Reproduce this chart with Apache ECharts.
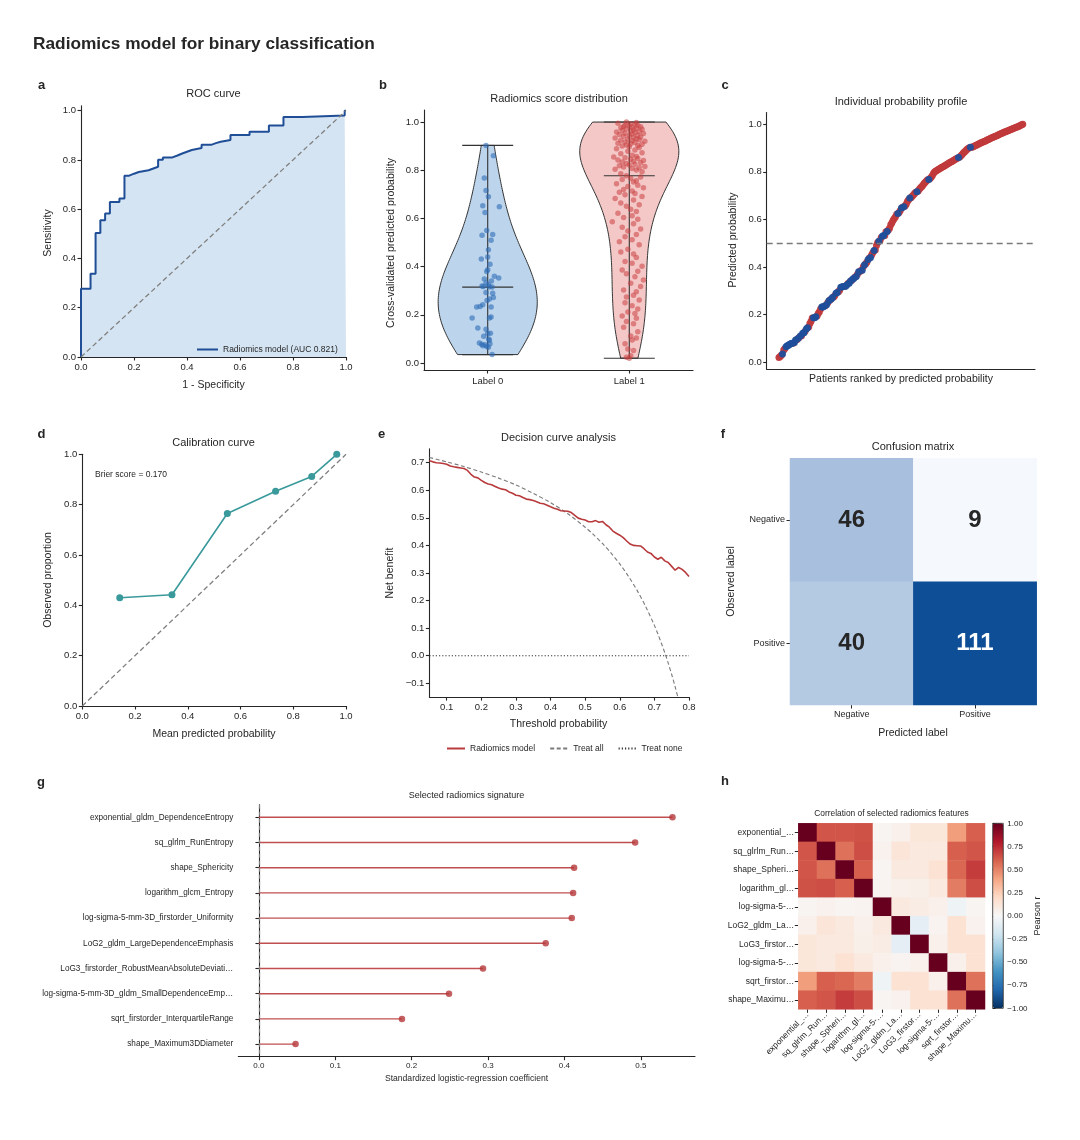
<!DOCTYPE html>
<html>
<head>
<meta charset="utf-8">
<script src="https://cdn.jsdelivr.net/npm/echarts@6/dist/echarts.min.js"></script>
<style>
  html, body { margin: 0; padding: 0; background: #fff; }
  #chart { width: 1080px; height: 1140px; }
</style>
</head>
<body>
<div id="chart"></div>
<script>
// ---------- data ----------
const rocFpr = [0, 0, 0.036, 0.036, 0.055, 0.055, 0.073, 0.073, 0.091, 0.091, 0.109, 0.109, 0.145, 0.145, 0.164, 0.164,
  0.182, 0.182, 0.2, 0.2, 0.218, 0.218, 0.255, 0.255, 0.273, 0.273, 0.291, 0.291, 0.309, 0.309, 0.345, 0.345,
  0.364, 0.364, 0.382, 0.382, 0.4, 0.4, 0.418, 0.418, 0.455, 0.455, 0.491, 0.491, 0.509, 0.509, 0.527, 0.527,
  0.564, 0.564, 0.636, 0.636, 0.709, 0.709, 0.764, 0.764, 0.836, 0.836, 0.995, 0.995, 1];
const rocTpr = [0, 0.277, 0.277, 0.338, 0.338, 0.503, 0.503, 0.555, 0.555, 0.582, 0.582, 0.629, 0.629, 0.643, 0.643, 0.736,
  0.736, 0.744, 0.744, 0.751, 0.751, 0.758, 0.758, 0.765, 0.765, 0.772, 0.772, 0.801, 0.801, 0.81, 0.81, 0.818,
  0.818, 0.826, 0.826, 0.833, 0.833, 0.84, 0.84, 0.848, 0.848, 0.861, 0.861, 0.868, 0.868, 0.874, 0.874, 0.881,
  0.881, 0.901, 0.901, 0.914, 0.914, 0.94, 0.94, 0.974, 0.974, 0.98, 0.98, 1.0, 1.0];
const rocName = 'Radiomics model (AUC 0.821)';

const scoreLabels = ['Label 0', 'Label 1'];
const label0Prob = [0.903, 0.86, 0.768, 0.716, 0.69, 0.653, 0.648, 0.625, 0.55,
  0.533, 0.53, 0.509, 0.47, 0.44, 0.432, 0.41,
  0.387, 0.38, 0.36, 0.353, 0.349, 0.34, 0.332, 0.325, 0.32, 0.318, 0.316, 0.315,
  0.293, 0.29, 0.272, 0.266, 0.259, 0.242, 0.235, 0.232, 0.232,
  0.191, 0.187, 0.187, 0.145, 0.14, 0.124, 0.122, 0.111, 0.10,
  0.094, 0.083, 0.08, 0.078, 0.076, 0.072, 0.069, 0.065, 0.035];
const label0Jitter = [-0.012, 0.04, -0.024, -0.012, 0.005, -0.035, 0.082, -0.019, -0.007,
  0.035, -0.04, 0.024, 0.005, 0, -0.045, 0.016,
  0, -0.007, 0.047, 0.078, -0.024, 0.026, -0.012, 0.005, -0.04, -0.031, 0.012, 0.031,
  -0.012, 0.035, 0.04, 0.012, -0.005, -0.035, -0.054, -0.078, 0.024,
  0.024, -0.11, 0.012, -0.07, -0.012, 0.019, 0, -0.028, 0.007,
  0.012, -0.059, 0.016, -0.042, -0.019, -0.035, -0.007, 0.005, 0.031];
const label1Prob = [0.02, 0.024, 0.03, 0.052, 0.058, 0.08, 0.095, 0.104, 0.112, 0.13,
  0.148, 0.163, 0.172, 0.186, 0.195, 0.205, 0.212, 0.224, 0.238, 0.25,
  0.262, 0.274, 0.281, 0.296, 0.303, 0.318, 0.331, 0.344, 0.358, 0.37,
  0.381, 0.386, 0.402, 0.414, 0.421, 0.438, 0.452, 0.461, 0.472, 0.491,
  0.503, 0.512, 0.524, 0.533, 0.548, 0.556, 0.563, 0.578, 0.586, 0.597,
  0.604, 0.611, 0.622, 0.629, 0.638, 0.651, 0.657, 0.664, 0.676, 0.683, 0.691, 0.698,
  0.703, 0.709, 0.714, 0.72, 0.727, 0.733, 0.738, 0.744, 0.751, 0.756, 0.762, 0.767, 0.772, 0.777,
  0.785, 0.794,
  0.801, 0.804, 0.807, 0.81, 0.813, 0.816, 0.819, 0.822, 0.825, 0.828,
  0.831, 0.834, 0.837, 0.84, 0.843, 0.846, 0.849, 0.852, 0.855, 0.857,
  0.862, 0.868, 0.873, 0.879, 0.884, 0.889, 0.894, 0.898,
  0.901, 0.903, 0.905, 0.908, 0.91, 0.912, 0.915, 0.917, 0.92, 0.922,
  0.924, 0.927, 0.929, 0.931, 0.934, 0.936, 0.938, 0.941, 0.943, 0.945,
  0.948, 0.95, 0.952, 0.954, 0.957, 0.959, 0.961, 0.963, 0.966, 0.968,
  0.97, 0.972, 0.974, 0.976, 0.978, 0.98, 0.982, 0.984, 0.986, 0.988,
  0.99, 0.993, 0.995, 0.998, 1.0];
const label1Jitter = [0.0, -0.02, 0.01, 0.03, -0.01, -0.03, 0.02, 0.05, 0.01, 0.06,
  -0.04, 0.03, -0.02, 0.05, -0.05, 0.04, -0.01, 0.06, 0.02, -0.03,
  0.07, -0.02, 0.03, 0.05, -0.04, 0.08, 0.01, 0.1, 0.04, -0.02,
  0.06, -0.05, 0.09, 0.02, -0.03, 0.05, 0.03, -0.06, -0.01, 0.07,
  -0.07, 0.02, -0.03, 0.05, -0.01, 0.08, -0.05, 0.03, -0.12, 0.06,
  -0.04, 0.02, -0.08, 0.05, 0.01, -0.02, 0.07, -0.06, 0.03, -0.1, 0.09, -0.03,
  0.04, -0.07, 0.02, -0.04, 0.1, -0.01, 0.06, -0.09, 0.03, 0.05, -0.05, 0.01, 0.08, -0.02,
  -0.06, 0.09,
  0.05, -0.1, 0.02, 0.07, -0.04, 0.11, -0.07, 0.0, 0.04, -0.02,
  0.08, -0.05, 0.03, 0.1, -0.08, 0.01, 0.06, -0.03, -0.11, 0.05,
  0.02, -0.06, 0.09, -0.01, 0.04, -0.09, 0.07, 0.0,
  -0.05, 0.06, -0.02, 0.09, 0.01, -0.08, 0.04, -0.03, 0.11, 0.02,
  -0.06, 0.07, -0.01, 0.05, -0.1, 0.03, 0.08, -0.04, 0.0, 0.06,
  -0.07, 0.02, 0.1, -0.03, 0.04, -0.09, 0.07, 0.01, -0.05, 0.03,
  0.09, -0.02, 0.05, -0.06, 0.02, 0.08, -0.04, 0.0, 0.06, -0.03,
  0.04, 0.01, -0.08, 0.05, -0.02];

const calMeanPred = [0.142, 0.34, 0.55, 0.733, 0.87, 0.965];
const calObserved = [0.43, 0.442, 0.765, 0.853, 0.912, 1.0];
const brierScore = 0.170;

const dcaThreshold = [0.05, 0.06, 0.07, 0.08, 0.09, 0.10, 0.11, 0.12, 0.13, 0.14, 0.15, 0.16, 0.17, 0.18, 0.19,
  0.20, 0.21, 0.22, 0.23, 0.24, 0.25, 0.26, 0.27, 0.28, 0.29, 0.30, 0.31, 0.32, 0.33, 0.34, 0.35, 0.36, 0.37,
  0.38, 0.39, 0.40, 0.41, 0.42, 0.43, 0.44, 0.45, 0.46, 0.47, 0.48, 0.49, 0.50, 0.51, 0.52, 0.53, 0.54, 0.55,
  0.56, 0.57, 0.58, 0.59, 0.60, 0.61, 0.62, 0.63, 0.64, 0.65, 0.66, 0.67, 0.68, 0.69, 0.70, 0.71, 0.72, 0.73,
  0.74, 0.75, 0.76, 0.77, 0.78, 0.79, 0.80];
const dcaModel = [0.707, 0.703, 0.700, 0.699, 0.697, 0.694, 0.688, 0.685, 0.683, 0.681, 0.679, 0.672, 0.658, 0.648, 0.645,
  0.636, 0.628, 0.623, 0.620, 0.614, 0.608, 0.604, 0.602, 0.594, 0.589, 0.582, 0.580, 0.574, 0.568, 0.566, 0.563, 0.558, 0.553,
  0.551, 0.546, 0.540, 0.535, 0.531, 0.526, 0.525, 0.524, 0.519, 0.509, 0.499, 0.495, 0.492, 0.486, 0.486, 0.490, 0.484, 0.487,
  0.475, 0.466, 0.452, 0.444, 0.437, 0.428, 0.416, 0.405, 0.400, 0.399, 0.398, 0.388, 0.376, 0.371, 0.358, 0.350, 0.357, 0.344,
  0.338, 0.324, 0.310, 0.320, 0.313, 0.302, 0.287];
const treatAllThreshold = [0.05, 0.10, 0.15, 0.20, 0.25, 0.30, 0.35, 0.40, 0.45, 0.50, 0.525, 0.55, 0.575, 0.60,
  0.625, 0.65, 0.675, 0.70, 0.71, 0.72, 0.73, 0.74, 0.75, 0.76, 0.77];
const treatAllBenefit = [0.719, 0.703, 0.686, 0.666, 0.644, 0.619, 0.589, 0.555, 0.515, 0.466, 0.438, 0.407, 0.372, 0.333,
  0.288, 0.237, 0.178, 0.110, 0.079, 0.046, 0.011, -0.027, -0.068, -0.113, -0.161];
const treatNoneThreshold = [0.05, 0.80];
const treatNoneBenefit = [0, 0];

const cmLabels = ['Negative', 'Positive'];
const cmCounts = [[46, 9], [40, 111]]; // rows: observed, cols: predicted

const featureNames = ['exponential_gldm_DependenceEntropy', 'sq_glrlm_RunEntropy', 'shape_Sphericity',
  'logarithm_glcm_Entropy', 'log-sigma-5-mm-3D_firstorder_Uniformity', 'LoG2_gldm_LargeDependenceEmphasis',
  'LoG3_firstorder_RobustMeanAbsoluteDeviati\u2026', 'log-sigma-5-mm-3D_gldm_SmallDependenceEmp\u2026',
  'sqrt_firstorder_InterquartileRange', 'shape_Maximum3DDiameter'];
const featureCoef = [0.5415, 0.4926, 0.4127, 0.4114, 0.4096, 0.3755, 0.2934, 0.2489, 0.1873, 0.048];

const corrLabels = ['exponential_\u2026', 'sq_glrlm_Run\u2026', 'shape_Spheri\u2026', 'logarithm_gl\u2026',
  'log-sigma-5-\u2026', 'LoG2_gldm_La\u2026', 'LoG3_firstor\u2026', 'log-sigma-5-\u2026', 'sqrt_firstor\u2026', 'shape_Maximu\u2026'];
const corrMatrix = [
  [1.00, 0.63, 0.63, 0.64, 0.02, 0.05, 0.12, 0.12, 0.42, 0.60],
  [0.63, 1.00, 0.55, 0.65, 0.04, 0.13, 0.10, 0.10, 0.60, 0.63],
  [0.63, 0.55, 1.00, 0.60, 0.02, 0.10, 0.10, 0.15, 0.58, 0.70],
  [0.64, 0.65, 0.60, 1.00, 0.03, 0.05, 0.06, 0.10, 0.52, 0.65],
  [0.02, 0.04, 0.02, 0.03, 1.00, 0.10, 0.08, 0.05, -0.05, 0.02],
  [0.05, 0.13, 0.10, 0.05, 0.10, 1.00, -0.10, 0.03, 0.15, 0.04],
  [0.12, 0.10, 0.10, 0.06, 0.08, -0.10, 1.00, 0.05, 0.15, 0.15],
  [0.12, 0.10, 0.15, 0.10, 0.05, 0.03, 0.05, 1.00, 0.05, 0.15],
  [0.42, 0.60, 0.58, 0.52, -0.05, 0.15, 0.15, 0.05, 1.00, 0.55],
  [0.60, 0.63, 0.70, 0.65, 0.02, 0.04, 0.15, 0.15, 0.55, 1.00]
];

// ---------- style ----------
const FONT = '"Liberation Sans", Arial, Helvetica, sans-serif';
const TXT = '#262626';
const AX = '#262626';
const RED = '#b83a3c';
const BLUE = '#1f4e96';

function fmtNum(dec) {
  return v => (v < -1e-9 ? '\u2212' : '') + Math.abs(v).toFixed(dec);
}

function valueAxis(gi, min, max, ticks, dec, fontSize, extra) {
  const hasTicks = ticks && ticks.length > 0;
  return Object.assign({
    type: 'value', gridIndex: gi, min: min, max: max,
    axisLine: { show: true, onZero: false, lineStyle: { color: AX, width: 1.1 } },
    axisTick: { show: hasTicks, length: 3.5, customValues: ticks, lineStyle: { color: AX, width: 1.1 } },
    axisLabel: { show: hasTicks, customValues: ticks, fontSize: fontSize || 9.5, color: TXT, margin: 5,
      fontFamily: FONT, formatter: fmtNum(dec) },
    splitLine: { show: false }
  }, extra || {});
}

function catAxis(gi, data, extra) {
  return Object.assign({
    type: 'category', gridIndex: gi, data: data,
    axisLine: { show: false },
    axisTick: { show: true, alignWithLabel: true, length: 3.5, lineStyle: { color: AX, width: 1 } },
    axisLabel: { fontSize: 9, color: TXT, margin: 5, fontFamily: FONT },
    splitLine: { show: false }, splitArea: { show: false }
  }, extra || {});
}

function text(x, y, str, size, o) {
  o = o || {};
  const al = o.align || 'center';
  return {
    type: 'text', x: x, y: y, rotation: o.rot || 0, z: 20, silent: true,
    style: { text: str, fill: o.color || TXT, fontSize: size, fontFamily: FONT,
      fontWeight: o.bold ? 'bold' : 'normal', textAlign: al, align: al,
      textVerticalAlign: 'middle', verticalAlign: 'middle' }
  };
}

function grid(left, top, width, height) {
  return { left: left, top: top, width: width, height: height, containLabel: false, outerBoundsMode: 'none' };
}

// violin outline from a gaussian KDE (Scott bandwidth times an adjust factor), cut at the data range
function violinShape(vals, pos, fill, bwAdjust) {
  const n = vals.length;
  const mean = vals.reduce((a, b) => a + b, 0) / n;
  const sd = Math.sqrt(vals.reduce((a, b) => a + (b - mean) * (b - mean), 0) / (n - 1));
  const bw = sd * Math.pow(n, -0.2) * bwAdjust;
  const lo = Math.min.apply(null, vals), hi = Math.max.apply(null, vals);
  const ys = [], d = [];
  for (let i = 0; i < 100; i++) {
    const y = lo + (hi - lo) * i / 99;
    let s = 0;
    vals.forEach(v => { s += Math.exp(-0.5 * Math.pow((y - v) / bw, 2)); });
    ys.push(y); d.push(s);
  }
  const m = Math.max.apply(null, d);
  const sorted = vals.slice().sort((a, b) => a - b);
  const med = n % 2 ? sorted[(n - 1) / 2] : (sorted[n / 2 - 1] + sorted[n / 2]) / 2;
  return { pos: pos, fill: fill, ys: ys, w: d.map(x => x / m * 0.35), lo: lo, hi: hi, med: med };
}

// ---------- derived ----------
const rocData = rocFpr.map((x, i) => [x, rocTpr[i]]);
const violins = [violinShape(label0Prob, 0, '#bcd5ed', 1.5), violinShape(label1Prob, 1, '#f5c8c8', 1.15)];

const ranked = label0Prob.map(p => ({ p: p, lab: 0 })).concat(label1Prob.map(p => ({ p: p, lab: 1 })))
  .sort((a, b) => a.p - b.p);
const rankRed = [], rankBlue = [];
ranked.forEach((r, i) => (r.lab ? rankRed : rankBlue).push([i, r.p]));

const cmData = [];
const cmMin = Math.min.apply(null, cmCounts.flat()), cmMax = Math.max.apply(null, cmCounts.flat());
cmCounts.forEach((row, r) => row.forEach((v, c) => {
  cmData.push({ value: [c, r, v], label: { color: v > (cmMin + cmMax) / 2 ? '#ffffff' : TXT } });
}));

const corrData = [];
corrMatrix.forEach((row, r) => row.forEach((v, c) => corrData.push([c, r, v])));

const ticks01 = [0, 0.2, 0.4, 0.6, 0.8, 1.0];

// ---------- series ----------
const series = [];
// a: ROC
series.push({ name: rocName, type: 'line', xAxisIndex: 0, yAxisIndex: 0, data: rocData, symbol: 'none', z: 2,
  lineStyle: { color: BLUE, width: 2 }, itemStyle: { color: BLUE },
  areaStyle: { color: '#d4e4f2', opacity: 1 } });
series.push({ type: 'line', xAxisIndex: 0, yAxisIndex: 0, data: [[0, 0], [1, 1]], symbol: 'none', z: 3, silent: true,
  lineStyle: { color: '#808080', width: 1.3, type: [5, 3] } });
// b: violins + strip points
series.push({
  type: 'custom', xAxisIndex: 1, yAxisIndex: 1, silent: true, z: 2,
  data: violins.map(v => [v.pos, v.med]),
  renderItem: function (params, api) {
    const v = violins[params.dataIndex];
    const right = v.ys.map((y, i) => api.coord([v.pos + v.w[i], y]));
    const left = v.ys.map((y, i) => api.coord([v.pos - v.w[i], y])).reverse();
    const seg = (x1, x2, y1, y2) => {
      const a = api.coord([x1, y1]), b = api.coord([x2, y2]);
      return { type: 'line', shape: { x1: a[0], y1: a[1], x2: b[0], y2: b[1] },
        style: { stroke: '#333333', lineWidth: 1.1 } };
    };
    return { type: 'group', children: [
      { type: 'polygon', shape: { points: right.concat(left) }, style: { fill: v.fill, stroke: '#333333', lineWidth: 1 } },
      seg(v.pos, v.pos, v.lo, v.hi),
      seg(v.pos - 0.18, v.pos + 0.18, v.lo, v.lo),
      seg(v.pos - 0.18, v.pos + 0.18, v.hi, v.hi),
      seg(v.pos - 0.18, v.pos + 0.18, v.med, v.med)
    ] };
  }
});
series.push({ type: 'scatter', xAxisIndex: 1, yAxisIndex: 1, z: 3, symbolSize: 5.5,
  data: label0Prob.map((p, i) => [0 + (label0Jitter[i] || 0), p]),
  itemStyle: { color: '#2f6db5', opacity: 0.6 } });
series.push({ type: 'scatter', xAxisIndex: 1, yAxisIndex: 1, z: 3, symbolSize: 5.5,
  data: label1Prob.map((p, i) => [1 + (label1Jitter[i] || 0), p]),
  itemStyle: { color: '#c94040', opacity: 0.55 } });
// c: ranked probabilities
series.push({ type: 'scatter', xAxisIndex: 2, yAxisIndex: 2, z: 3, symbolSize: 7, data: rankRed,
  itemStyle: { color: '#c0393b', opacity: 0.95 },
  markLine: { silent: true, symbol: 'none', label: { show: false },
    lineStyle: { color: '#7a7a7a', width: 1.4, type: [6, 4] }, data: [{ yAxis: 0.5 }] } });
series.push({ type: 'scatter', xAxisIndex: 2, yAxisIndex: 2, z: 4, symbolSize: 7, data: rankBlue,
  itemStyle: { color: '#1f4e9b', opacity: 0.95 } });
// d: calibration
series.push({ type: 'line', xAxisIndex: 3, yAxisIndex: 3, data: [[0, 0], [1, 1]], symbol: 'none', silent: true, z: 2,
  lineStyle: { color: '#808080', width: 1.3, type: [5, 3] } });
series.push({ type: 'line', xAxisIndex: 3, yAxisIndex: 3, z: 3, clip: false,
  data: calMeanPred.map((x, i) => [x, calObserved[i]]), symbol: 'circle', symbolSize: 7,
  lineStyle: { color: '#3a999b', width: 1.6 }, itemStyle: { color: '#3a999b' } });
// e: decision curve
series.push({ name: 'Radiomics model', type: 'line', xAxisIndex: 4, yAxisIndex: 4, z: 4, symbol: 'none',
  data: dcaThreshold.map((t, i) => [t, dcaModel[i]]), lineStyle: { color: RED, width: 1.6 }, itemStyle: { color: RED } });
series.push({ name: 'Treat all', type: 'line', xAxisIndex: 4, yAxisIndex: 4, z: 3, symbol: 'none', smooth: 0.3,
  data: treatAllThreshold.map((t, i) => [t, treatAllBenefit[i]]),
  lineStyle: { color: '#7a7a7a', width: 1.1, type: [4, 2.5] }, itemStyle: { color: '#7a7a7a' } });
series.push({ name: 'Treat none', type: 'line', xAxisIndex: 4, yAxisIndex: 4, z: 3, symbol: 'none',
  data: treatNoneThreshold.map((t, i) => [t, treatNoneBenefit[i]]),
  lineStyle: { color: '#333333', width: 1.1, type: [1.2, 2] }, itemStyle: { color: '#333333' } });
// f: confusion matrix
const cmSeriesIndex = series.length;
series.push({ type: 'heatmap', xAxisIndex: 5, yAxisIndex: 5, data: cmData,
  label: { show: true, formatter: p => p.value[2], fontSize: 24, fontWeight: 'bold', fontFamily: FONT } });
// g: lollipop
series.push({ type: 'bar', xAxisIndex: 6, yAxisIndex: 6, data: featureCoef, barWidth: 1.4, z: 2,
  itemStyle: { color: '#c04f51' }, silent: true });
series.push({ type: 'scatter', xAxisIndex: 6, yAxisIndex: 6, z: 3, symbolSize: 6.5,
  data: featureCoef.map((v, i) => [v, i]), itemStyle: { color: '#b5373a' },
  markLine: { silent: true, symbol: 'none', label: { show: false },
    lineStyle: { color: '#808080', width: 1.2, type: [4, 3] }, data: [{ xAxis: 0 }] } });
// h: correlation heatmap
const corrSeriesIndex = series.length;
series.push({ type: 'heatmap', xAxisIndex: 7, yAxisIndex: 7, data: corrData });

// ---------- layout ----------
const grids = [
  grid(81, 105.7, 265, 251.3),      // a
  grid(424, 110, 269, 260),         // b
  grid(766.7, 112.6, 268.3, 256.6), // c
  grid(82.3, 454.3, 263.7, 251.7),  // d
  grid(429.4, 448.9, 259.6, 248.2), // e
  grid(790, 458.3, 246.7, 246.7),   // f
  grid(238.3, 804.7, 456.7, 252),   // g
  grid(798.3, 823.3, 186.7, 186),   // h
  grid(992.7, 823.3, 10.6, 185)     // colorbar axis
];

const xAxes = [
  valueAxis(0, 0, 1, ticks01, 1),
  valueAxis(1, -0.45, 1.45, [0, 1], 0, 9.5, {
    axisLabel: { show: true, customValues: [0, 1], fontSize: 9.5, color: TXT, margin: 6, fontFamily: FONT,
      formatter: v => scoreLabels[Math.round(v)] } }),
  valueAxis(2, -10.3, ranked.length - 1 + 10.3, [], 0),
  valueAxis(3, 0, 1, ticks01, 1),
  valueAxis(4, 0.05, 0.8, [0.1, 0.2, 0.3, 0.4, 0.5, 0.6, 0.7, 0.8], 1),
  catAxis(5, cmLabels, { position: 'bottom' }),
  valueAxis(6, -0.027, 0.571, [0, 0.1, 0.2, 0.3, 0.4, 0.5], 1, 8),
  catAxis(7, corrLabels, { axisLabel: { rotate: 45, fontSize: 8.5, color: TXT, margin: 4, fontFamily: FONT, interval: 0 } }),
  { type: 'value', gridIndex: 8, min: 0, max: 1, show: false }
];

const yAxes = [
  valueAxis(0, 0, 1.02, ticks01, 1),
  valueAxis(1, -0.029, 1.05, ticks01, 1),
  valueAxis(2, -0.029, 1.049, ticks01, 1),
  valueAxis(3, 0, 1, ticks01, 1),
  valueAxis(4, -0.15, 0.75, [-0.1, 0, 0.1, 0.2, 0.3, 0.4, 0.5, 0.6, 0.7], 1),
  catAxis(5, cmLabels, { inverse: true }),
  { type: 'category', gridIndex: 6, data: featureNames, inverse: true,
    axisLine: { show: true, lineStyle: { color: AX, width: 1.1 } },
    axisTick: { show: true, alignWithLabel: true, length: 3.5, lineStyle: { color: AX, width: 1.1 } },
    axisLabel: { fontSize: 8.2, color: TXT, margin: 5, fontFamily: FONT, interval: 0 },
    splitLine: { show: false } },
  catAxis(7, corrLabels, { inverse: true, axisLabel: { fontSize: 8.5, color: TXT, margin: 4, fontFamily: FONT, interval: 0 } }),
  { type: 'value', gridIndex: 8, min: -1, max: 1, interval: 0.25, position: 'right',
    axisLine: { show: false },
    axisTick: { show: true, length: 3, lineStyle: { color: AX, width: 1 } },
    axisLabel: { fontSize: 8, color: TXT, margin: 4, fontFamily: FONT, formatter: fmtNum(2) },
    splitLine: { show: false } }
];

const graphics = [
  text(33, 44, 'Radiomics model for binary classification', 17.3, { bold: true, align: 'left' }),
  text(41.5, 85, 'a', 13, { bold: true }), text(383, 85, 'b', 13, { bold: true }),
  text(725, 85, 'c', 13, { bold: true }), text(41.5, 434, 'd', 13, { bold: true }),
  text(381.5, 434, 'e', 13, { bold: true }), text(723, 434, 'f', 13, { bold: true }),
  text(41, 782.5, 'g', 13, { bold: true }), text(725, 781.5, 'h', 13, { bold: true }),
  // titles
  text(213.5, 94, 'ROC curve', 11), text(559, 99, 'Radiomics score distribution', 11),
  text(901, 101.5, 'Individual probability profile', 11), text(213.5, 443, 'Calibration curve', 11),
  text(558.5, 437.5, 'Decision curve analysis', 11), text(913, 446.5, 'Confusion matrix', 11),
  text(466.5, 795.5, 'Selected radiomics signature', 9), text(891.5, 813.5, 'Correlation of selected radiomics features', 8.4),
  // axis names
  text(213.5, 385, '1 - Specificity', 10.5), text(48, 233, 'Sensitivity', 10.5, { rot: Math.PI / 2 }),
  text(391.5, 243, 'Cross-validated predicted probability', 10.5, { rot: Math.PI / 2 }),
  text(901, 379, 'Patients ranked by predicted probability', 10.5),
  text(733, 240, 'Predicted probability', 10.5, { rot: Math.PI / 2 }),
  text(214, 734.5, 'Mean predicted probability', 10.5), text(48, 580, 'Observed proportion', 10.5, { rot: Math.PI / 2 }),
  text(558.5, 724.5, 'Threshold probability', 10.5), text(390, 573, 'Net benefit', 10.5, { rot: Math.PI / 2 }),
  text(913, 733, 'Predicted label', 10.5), text(731, 581.5, 'Observed label', 10.5, { rot: Math.PI / 2 }),
  text(466.5, 1079, 'Standardized logistic-regression coefficient', 8.6),
  text(1038, 916, 'Pearson r', 9, { rot: Math.PI / 2 }),
  text(95, 474.5, 'Brier score = ' + brierScore.toFixed(3), 8.5, { align: 'left' }),
  { type: 'rect', z: 20, silent: true, shape: { x: 992.7, y: 823.3, width: 10.6, height: 185 },
    style: { fill: 'none', stroke: '#262626', lineWidth: 0.8 } }
];

const legendBase = { selectedMode: false, itemHeight: 8, itemStyle: { opacity: 0, borderWidth: 0 },
  textStyle: { fontSize: 8.5, color: TXT, fontFamily: FONT } };

const chart = echarts.init(document.getElementById('chart'), null, { renderer: 'canvas' });
chart.setOption({
  animation: false,
  backgroundColor: '#ffffff',
  textStyle: { fontFamily: FONT, color: TXT },
  grid: grids,
  xAxis: xAxes,
  yAxis: yAxes,
  visualMap: [
    { type: 'continuous', show: false, seriesIndex: cmSeriesIndex, min: cmMin, max: cmMax, dimension: 2,
      inRange: { color: ['#f5f9fd', '#c0d3e8', '#8aa9cf', '#4a7cb5', '#0e4e96'] } },
    { type: 'continuous', show: true, seriesIndex: corrSeriesIndex, min: -1, max: 1, dimension: 2,
      calculable: false, orient: 'vertical', left: 992.7, top: 823.3, padding: 0,
      itemWidth: 10.6, itemHeight: 185, text: null, hoverLink: false,
      inRange: { color: ['#053061', '#2166ac', '#4393c3', '#92c5de', '#d1e5f0', '#f7f7f7',
        '#fddbc7', '#f4a582', '#d6604d', '#b2182b', '#67001f'] } }
  ],
  legend: [
    Object.assign({}, legendBase, { data: [rocName], left: 191, top: 340, itemWidth: 21, itemGap: 6 }),
    Object.assign({}, legendBase, { data: ['Radiomics model', 'Treat all', 'Treat none'], left: 441, top: 739,
      itemWidth: 18, itemGap: 14 })
  ],
  series: series,
  graphic: { elements: graphics }
});
</script>
</body>
</html>
